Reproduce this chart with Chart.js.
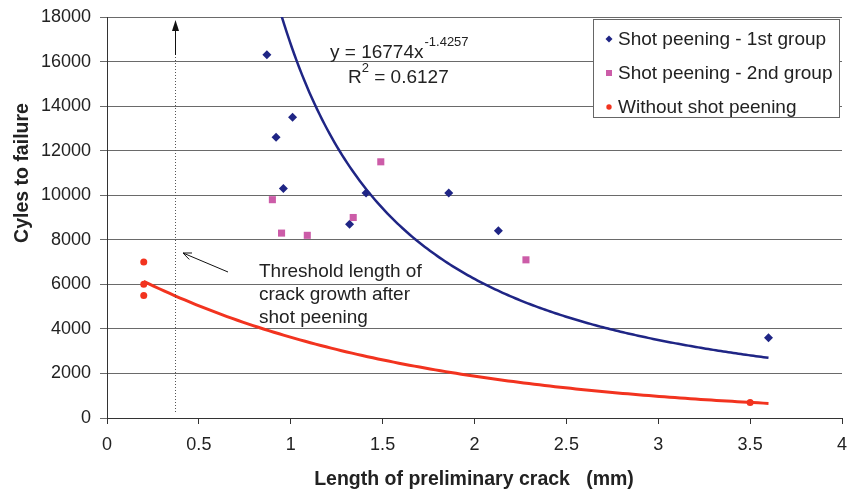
<!DOCTYPE html>
<html>
<head>
<meta charset="utf-8">
<script src="https://cdn.jsdelivr.net/npm/chart.js@4.4.1/dist/chart.umd.min.js"></script>
<style>
  html, body { margin: 0; padding: 0; background: #fff; }
  #wrap { width: 847px; height: 493px; }
</style>
</head>
<body>
<div id="wrap"><canvas id="chart" width="847" height="493"></canvas></div>
<script>
// data
const GROUP1_X = [0.87, 0.92, 1.01, 0.96, 1.41, 1.86, 1.32, 2.13, 3.6];
const GROUP1_Y = [16300, 12600, 13500, 10300, 10100, 10100, 8700, 8400, 3600];
const GROUP2_X = [0.9, 0.95, 1.09, 1.34, 1.49, 2.28];
const GROUP2_Y = [9800, 8300, 8200, 9000, 11500, 7100];
const NOSHOT_X = [0.2, 0.2, 0.2, 3.5];
const NOSHOT_Y = [7000, 6000, 5500, 700];

// power trendline printed on the chart
const POWER_A = 16774;
const POWER_B = -1.4257;
const POWER_R2 = "0.6127";
const TREND_RANGE = [0.87, 3.6];

const X_TICKS = [0, 0.5, 1, 1.5, 2, 2.5, 3, 3.5, 4];
const Y_TICKS = [0, 2000, 4000, 6000, 8000, 10000, 12000, 14000, 16000, 18000];

const SERIES_NAMES = ["Shot peening - 1st group", "Shot peening - 2nd group", "Without shot peening"];
const NOTE_LINES = ["Threshold length of", "crack growth after", "shot peening"];
const THRESHOLD_X = 0.37;

const NAVY = "#1f2585";
const PINK = "#cc5ca8";
const RED = "#f2331f";
const TEXT = "#222";
const FONT = "'Liberation Sans', Arial, sans-serif";

function pts(xs, ys) {
  return xs.map((x, i) => ({ x, y: ys[i] }));
}

// exponential least-squares fit (Excel style) of the red group
function expFit(xs, ys) {
  const n = xs.length;
  const ly = ys.map(Math.log);
  const mx = xs.reduce((a, b) => a + b, 0) / n;
  const my = ly.reduce((a, b) => a + b, 0) / n;
  let sxx = 0, sxy = 0;
  xs.forEach((x, i) => {
    sxx += (x - mx) * (x - mx);
    sxy += (x - mx) * (ly[i] - my);
  });
  const b = sxy / sxx;
  return { a: Math.exp(my - b * mx), b };
}

function curve(fn, x0, x1, steps) {
  const out = [];
  for (let i = 0; i <= steps; i++) {
    const x = x0 + (x1 - x0) * i / steps;
    out.push({ x, y: fn(x) });
  }
  return out;
}

const redFit = expFit(NOSHOT_X, NOSHOT_Y);
const blueTrend = curve((x) => POWER_A * Math.pow(x, POWER_B), TREND_RANGE[0], TREND_RANGE[1], 200);
const redTrend = curve((x) => redFit.a * Math.exp(redFit.b * x), Math.min(...NOSHOT_X), TREND_RANGE[1], 120);

function drawMarker(ctx, style, x, y, r, color) {
  ctx.fillStyle = color;
  ctx.beginPath();
  if (style === "rectRot") {
    ctx.moveTo(x, y - r); ctx.lineTo(x + r, y); ctx.lineTo(x, y + r); ctx.lineTo(x - r, y);
  } else if (style === "rect") {
    ctx.rect(x - r, y - r, 2 * r, 2 * r);
  } else {
    ctx.arc(x, y, r, 0, Math.PI * 2);
  }
  ctx.closePath();
  ctx.fill();
}

const annotations = {
  id: "annotations",
  afterDatasetsDraw(chart) {
    const { ctx, scales } = chart;
    const xs = scales.x, ys = scales.y;
    ctx.save();

    // threshold line with arrow
    const tx = Math.round(xs.getPixelForValue(THRESHOLD_X)) + 0.5;
    const yBottom = ys.getPixelForValue(0) - 6;
    ctx.strokeStyle = "#555";
    ctx.lineWidth = 1;
    ctx.setLineDash([1, 2]);
    ctx.beginPath(); ctx.moveTo(tx, yBottom); ctx.lineTo(tx, 55); ctx.stroke();
    ctx.setLineDash([]);
    ctx.strokeStyle = "#111";
    ctx.beginPath(); ctx.moveTo(tx, 55); ctx.lineTo(tx, 29); ctx.stroke();
    ctx.fillStyle = "#111";
    ctx.beginPath(); ctx.moveTo(tx, 20); ctx.lineTo(tx + 3.5, 31); ctx.lineTo(tx - 3.5, 31); ctx.closePath(); ctx.fill();

    // pointer arrow to threshold line
    const ax0 = 228, ay0 = 272, ax1 = 183, ay1 = 253;
    ctx.strokeStyle = "#111";
    ctx.lineWidth = 1;
    ctx.beginPath(); ctx.moveTo(ax0, ay0); ctx.lineTo(ax1, ay1); ctx.stroke();
    const ang = Math.atan2(ay0 - ay1, ax0 - ax1);
    ctx.beginPath();
    ctx.moveTo(ax1 + 9 * Math.cos(ang - 0.4), ay1 + 9 * Math.sin(ang - 0.4));
    ctx.lineTo(ax1, ay1);
    ctx.lineTo(ax1 + 9 * Math.cos(ang + 0.4), ay1 + 9 * Math.sin(ang + 0.4));
    ctx.stroke();

    ctx.fillStyle = TEXT;
    ctx.font = "19px " + FONT;
    ctx.textAlign = "left";
    ctx.textBaseline = "alphabetic";
    NOTE_LINES.forEach((t, i) => ctx.fillText(t, 259, 277 + i * 23));

    // equation
    ctx.fillText("y = " + POWER_A + "x", 330, 58);
    const w = ctx.measureText("y = " + POWER_A + "x").width;
    ctx.font = "13px " + FONT;
    ctx.fillText(String(POWER_B), 330 + w + 1, 46);
    ctx.font = "19px " + FONT;
    ctx.fillText("R", 348, 83);
    const rw = ctx.measureText("R").width;
    ctx.font = "13px " + FONT;
    ctx.fillText("2", 348 + rw, 72);
    const sw = ctx.measureText("2").width;
    ctx.font = "19px " + FONT;
    ctx.fillText(" = " + POWER_R2, 348 + rw + sw, 83);

    // legend box
    ctx.fillStyle = "#fff";
    ctx.fillRect(593, 19, 247, 98);
    ctx.strokeStyle = "#666";
    ctx.lineWidth = 1;
    ctx.strokeRect(593.5, 19.5, 246, 98);
    const styles = [["rectRot", 3.5, NAVY], ["rect", 3, PINK], ["circle", 2.7, RED]];
    SERIES_NAMES.forEach((name, i) => {
      const cy = 39 + i * 34;
      drawMarker(ctx, styles[i][0], 609, cy, styles[i][1], styles[i][2]);
      ctx.fillStyle = TEXT;
      ctx.font = "19px " + FONT;
      ctx.textBaseline = "middle";
      ctx.fillText(name, 618, cy + 1);
    });

    // axis titles
    ctx.font = "bold 19.5px " + FONT;
    ctx.textAlign = "center";
    ctx.textBaseline = "middle";
    ctx.fillText("Length of preliminary crack   (mm)", 474, 480);
    ctx.save();
    ctx.translate(23, 173);
    ctx.rotate(-Math.PI / 2);
    ctx.fillText("Cyles to failure", 0, 0);
    ctx.restore();

    ctx.restore();
  },
};

new Chart(document.getElementById("chart"), {
  type: "scatter",
  data: {
    datasets: [
      {
        label: SERIES_NAMES[0],
        data: pts(GROUP1_X, GROUP1_Y),
        pointStyle: "rectRot",
        pointRadius: 4.5,
        backgroundColor: NAVY,
        borderColor: NAVY,
        borderWidth: 0,
        order: 3,
      },
      {
        label: SERIES_NAMES[1],
        data: pts(GROUP2_X, GROUP2_Y),
        pointStyle: "rect",
        pointRadius: 5,
        backgroundColor: PINK,
        borderColor: PINK,
        borderWidth: 0,
        order: 2,
      },
      {
        label: SERIES_NAMES[2],
        data: pts(NOSHOT_X, NOSHOT_Y),
        pointStyle: "circle",
        pointRadius: 3.5,
        backgroundColor: RED,
        borderColor: RED,
        borderWidth: 0,
        order: 1,
      },
      {
        label: "power trend",
        data: blueTrend,
        showLine: true,
        pointRadius: 0,
        borderColor: NAVY,
        borderWidth: 2.5,
        order: 4,
      },
      {
        label: "exp trend",
        data: redTrend,
        showLine: true,
        pointRadius: 0,
        borderColor: RED,
        borderWidth: 3,
        order: 5,
      },
    ],
  },
  options: {
    responsive: false,
    animation: false,
    devicePixelRatio: 1,
    layout: { padding: { top: 17, right: 4, left: 0, bottom: 0 } },
    plugins: { legend: { display: false }, tooltip: { enabled: false } },
    scales: {
      x: {
        type: "linear",
        min: 0,
        max: 4,
        afterBuildTicks(scale) {
          scale.ticks = X_TICKS.map((v) => ({ value: v }));
        },
        afterFit(scale) {
          scale.height = 75;
          scale.paddingLeft = 0;
          scale.paddingRight = 0;
        },
        grid: { drawOnChartArea: false, drawTicks: true, tickLength: 6, color: "#333" },
        border: { display: true, color: "#333", width: 1 },
        ticks: {
          color: TEXT,
          font: { family: FONT, size: 18 },
          padding: 10,
          maxRotation: 0,
          callback: (v) => String(v),
        },
      },
      y: {
        type: "linear",
        min: 0,
        max: 18000,
        afterBuildTicks(scale) {
          scale.ticks = Y_TICKS.map((v) => ({ value: v }));
        },
        afterFit(scale) {
          scale.width = 107;
          scale.paddingTop = 0;
          scale.paddingBottom = 0;
        },
        grid: { drawOnChartArea: true, drawTicks: true, tickLength: 7, color: "#6a6a6a", lineWidth: 1 },
        border: { display: true, color: "#333", width: 1 },
        ticks: {
          color: TEXT,
          font: { family: FONT, size: 18 },
          padding: 9,
          callback: (v) => String(v),
        },
      },
    },
  },
  plugins: [annotations],
});
</script>
</body>
</html>
